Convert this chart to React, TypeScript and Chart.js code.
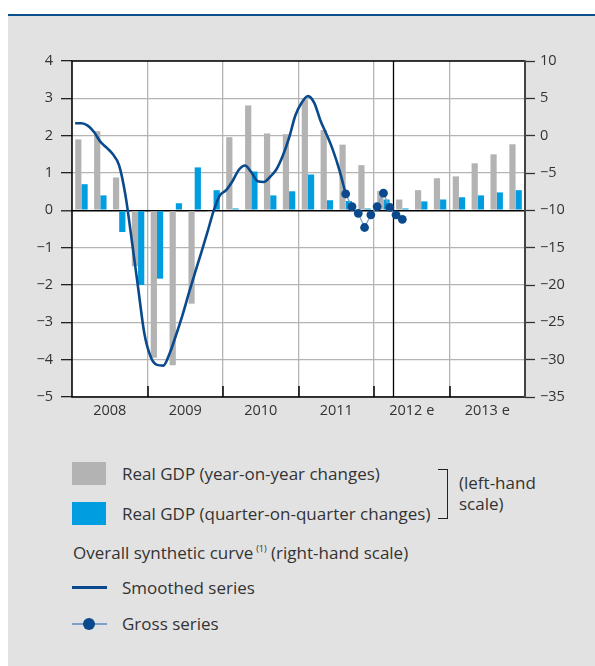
import React, { useEffect, useRef } from 'react';
import Chart from 'chart.js/auto';

// ---------- data ----------
const years = ['2008', '2009', '2010', '2011', '2012 e', '2013 e'];
const quarterNames = ['Q1', 'Q2', 'Q3', 'Q4'];

// Real GDP, year-on-year changes (%), quarterly 2008Q1..2013Q4 (left-hand scale)
const gdpYoY = [1.90, 2.12, 0.88, -1.50, -3.95, -4.15, -2.50, -0.05, 1.96, 2.81, 2.06, 2.04, 2.97, 2.15, 1.76, 1.21, 0.52, 0.29, 0.54, 0.86, 0.91, 1.26, 1.50, 1.77];
// Real GDP, quarter-on-quarter changes (%), quarterly 2008Q1..2013Q4 (left-hand scale)
const gdpQoQ = [0.70, 0.40, -0.58, -2.00, -1.83, 0.19, 1.15, 0.54, 0.05, 1.04, 0.40, 0.51, 0.96, 0.27, 0.25, 0.05, 0.29, 0.05, 0.24, 0.29, 0.35, 0.40, 0.48, 0.54];

// Overall synthetic curve, smoothed series (right-hand scale), monthly from 2008-01
const smoothStart = '2008-01';
const smoothed = [1.66, 1.66, 1.35, 0.5, -0.8, -1.6, -2.5, -4.0, -8.0, -14.0, -20.3, -26.5, -29.6, -30.7, -30.8, -29.2, -26.8, -24.2, -21.3, -18.5, -15.8, -13.0, -10.1, -8.0, -7.3, -6.1, -4.6, -4.0, -4.9, -6.1, -6.2, -5.5, -4.5, -2.7, -0.3, 2.7, 4.4, 5.3, 4.4, 2.0, 0.1, -2.0, -4.6, -7.8];

// Overall synthetic curve, gross series (right-hand scale), monthly from 2011-08
const grossStart = '2011-08';
const gross = [-7.8, -9.5, -10.4, -12.3, -10.6, -9.5, -7.7, -9.6, -10.6, -11.2];

// first month of the forecast period (vertical divider)
const forecastStart = '2012-04';

const leftTicks = { min: -5, max: 4, step: 1 };
const rightTicks = { min: -35, max: 10, step: 5 };

// ---------- helpers ----------
const baseYear = Number(years[0]);
const monthStartX = (label: string, idx = 0) => {
  const [y, m] = label.split('-').map(Number);
  return (y - baseYear) * 4 + (m - 1 + idx) / 3;
};
const monthCenterX = (label: string, idx: number) => monthStartX(label, idx) + 0.5 / 3;
const quarterLabels = years.flatMap((y) => quarterNames.map((q) => `${y} ${q}`));
const nQuarters = quarterLabels.length;

const FONT = "'Open Sans', 'Noto Sans', sans-serif";
const TEXT = '#333333';
const NAVY = '#0a4a8c';
const GRID = '#b4b4b4';
const fmt = (v: number) => (v < 0 ? '\u2212' + Math.abs(v) : String(v));

const framePlugin = {
  id: 'frame',
  beforeDraw(chart: any) {
    const { ctx, chartArea: a } = chart;
    ctx.save();
    ctx.fillStyle = '#ffffff';
    ctx.fillRect(a.left, a.top, a.right - a.left, a.bottom - a.top);
    ctx.restore();
  },
  beforeDatasetsDraw(chart: any) {
    const { ctx, chartArea: a, scales } = chart;
    const x = scales.x;
    ctx.save();
    ctx.strokeStyle = '#000';
    ctx.lineWidth = 1.5;
    for (let q = 4; q < nQuarters; q += 4) {
      const px = Math.round(x.getPixelForValue(q));
      ctx.beginPath();
      ctx.moveTo(px, a.bottom);
      ctx.lineTo(px, a.bottom - 11);
      ctx.stroke();
    }
    const sx = Math.round(x.getPixelForValue(monthStartX(forecastStart))) + 0.5;
    ctx.lineWidth = 1.3;
    ctx.beginPath();
    ctx.moveTo(sx, a.top);
    ctx.lineTo(sx, a.bottom);
    ctx.stroke();
    ctx.restore();
  },
  afterDatasetsDraw(chart: any) {
    const { ctx, chartArea: a } = chart;
    ctx.save();
    ctx.lineWidth = 1.5;
    ctx.strokeStyle = '#000';
    ctx.beginPath();
    ctx.moveTo(a.right, a.top);
    ctx.lineTo(a.left, a.top);
    ctx.lineTo(a.left, a.bottom);
    ctx.lineTo(a.right, a.bottom);
    ctx.stroke();
    ctx.strokeStyle = '#444';
    ctx.lineWidth = 2;
    ctx.beginPath();
    ctx.moveTo(a.right, a.top - 0.75);
    ctx.lineTo(a.right, a.bottom + 0.75);
    ctx.stroke();
    ctx.restore();
  },
};

function ChartCanvas() {
  const ref = useRef<HTMLCanvasElement | null>(null);
  useEffect(() => {
    if (!ref.current) return;
    const tickFont = { family: FONT, size: 14.5 };
    const chart = new Chart(ref.current, {
      type: 'bar',
      data: {
        datasets: [
          {
            type: 'line',
            label: 'Gross series',
            data: gross.map((v, i) => ({ x: monthCenterX(grossStart, i), y: v })),
            yAxisID: 'y2',
            borderColor: '#7e9fca',
            borderWidth: 1.3,
            pointRadius: 4.4,
            pointBackgroundColor: NAVY,
            pointBorderColor: NAVY,
            pointBorderWidth: 0,
            tension: 0,
            order: 0,
          } as any,
          {
            type: 'line',
            label: 'Smoothed series',
            data: smoothed.map((v, i) => ({ x: monthCenterX(smoothStart, i), y: v })),
            yAxisID: 'y2',
            borderColor: NAVY,
            borderWidth: 2.6,
            pointRadius: 0,
            cubicInterpolationMode: 'monotone',
            order: 1,
          } as any,
          {
            type: 'bar',
            label: 'Real GDP (year-on-year changes)',
            data: gdpYoY.map((v, i) => ({ x: i + 0.5, y: v })),
            yAxisID: 'y',
            backgroundColor: '#b3b3b3',
            categoryPercentage: 0.66,
            barPercentage: 1.0,
            order: 2,
          } as any,
          {
            type: 'bar',
            label: 'Real GDP (quarter-on-quarter changes)',
            data: gdpQoQ.map((v, i) => ({ x: i + 0.5, y: v })),
            yAxisID: 'y',
            backgroundColor: '#009ee0',
            categoryPercentage: 0.66,
            barPercentage: 1.0,
            order: 2,
          } as any,
        ],
      },
      options: {
        animation: false,
        responsive: false,
        devicePixelRatio: 1,
        layout: { padding: { top: 45, left: 0, right: 0, bottom: 0 } },
        plugins: { legend: { display: false }, tooltip: { enabled: false } },
        scales: {
          x: {
            type: 'linear',
            min: 0,
            max: nQuarters,
            offset: false,
            afterBuildTicks: (scale: any) => {
              const t = [];
              for (let v = 0; v <= nQuarters; v += 2) t.push({ value: v });
              scale.ticks = t;
            },
            afterFit: (scale: any) => {
              scale.height = 39;
            },
            ticks: {
              autoSkip: false,
              maxRotation: 0,
              padding: 5,
              color: TEXT,
              font: tickFont,
              callback: (v: any) => (Number(v) % 4 === 2 ? years[(Number(v) - 2) / 4] : ''),
            },
            grid: {
              offset: false,
              drawTicks: false,
              lineWidth: 1.3,
              color: (c: any) => (c.tick && c.tick.value % 4 === 0 ? GRID : 'rgba(0,0,0,0)'),
            },
            border: { display: false },
          },
          y: {
            type: 'linear',
            position: 'left',
            min: leftTicks.min,
            max: leftTicks.max,
            afterFit: (scale: any) => {
              scale.width = 64;
            },
            ticks: {
              stepSize: leftTicks.step,
              padding: 8,
              color: TEXT,
              font: tickFont,
              callback: (v: any) => fmt(Number(v)),
            },
            grid: {
              tickLength: 11,
              tickColor: '#222',
              tickWidth: 1.3,
              lineWidth: (c: any) => (c.tick && c.tick.value === 0 ? 1.6 : 1.3),
              color: (c: any) => (c.tick && c.tick.value === 0 ? '#000' : GRID),
            },
            border: { display: false },
          },
          y2: {
            type: 'linear',
            position: 'right',
            min: rightTicks.min,
            max: rightTicks.max,
            afterFit: (scale: any) => {
              scale.width = 70;
            },
            ticks: {
              stepSize: rightTicks.step,
              padding: 5,
              color: TEXT,
              font: tickFont,
              callback: (v: any) => fmt(Number(v)),
            },
            grid: {
              drawOnChartArea: false,
              tickLength: 10,
              tickColor: '#333',
              tickWidth: 1.3,
            },
            border: { display: false },
          },
        },
      } as any,
      plugins: [framePlugin],
    });
    return () => chart.destroy();
  }, []);
  return <canvas ref={ref} width={587} height={420} style={{ position: 'absolute', left: 8, top: 16, width: 587, height: 420 }} />;
}

const txt = (left: number, center: number, content: React.ReactNode, size = 17) => (
  <div
    style={{
      position: 'absolute',
      left,
      top: center - 11,
      height: 22,
      lineHeight: '22px',
      fontFamily: FONT,
      fontSize: size,
      color: TEXT,
      whiteSpace: 'nowrap',
    }}
  >
    {content}
  </div>
);

export default function App() {
  return (
    <div style={{ position: 'fixed', left: 0, top: 0, width: 595, height: 666, background: '#fff', overflow: 'hidden' }}>
      <div
        style={{
          position: 'absolute',
          left: 8,
          top: 14,
          width: 587,
          height: 652,
          background: '#e2e2e2',
          borderTop: '2px solid #0b4f8c',
          boxSizing: 'border-box',
        }}
      />
      <ChartCanvas />
      {/* legend */}
      <div style={{ position: 'absolute', left: 72, top: 462, width: 34, height: 23, background: '#b3b3b3' }} />
      {txt(122, 474, 'Real GDP (year-on-year changes)')}
      <div style={{ position: 'absolute', left: 72, top: 502, width: 34, height: 23, background: '#009ee0' }} />
      {txt(122, 514, 'Real GDP (quarter-on-quarter changes)')}
      <div
        style={{
          position: 'absolute',
          left: 438,
          top: 469,
          width: 9,
          height: 48,
          borderTop: '1.5px solid #222',
          borderRight: '1.5px solid #222',
          borderBottom: '1.5px solid #222',
        }}
      />
      {txt(459, 483, '(left-hand')}
      {txt(459, 504, 'scale)')}
      {txt(
        73,
        553,
        <span>
          Overall synthetic curve
          <sup style={{ fontSize: 9, verticalAlign: 'top', lineHeight: '14px', marginLeft: 3 }}>(1)</sup> (right-hand scale)
        </span>
      )}
      <div style={{ position: 'absolute', left: 72, top: 585.5, width: 35, height: 3, background: NAVY }} />
      {txt(122, 588, 'Smoothed series')}
      <div style={{ position: 'absolute', left: 72, top: 623, width: 35, height: 1.5, background: '#7e9fca' }} />
      <div style={{ position: 'absolute', left: 83, top: 618, width: 12, height: 12, borderRadius: 6, background: NAVY }} />
      {txt(122, 624, 'Gross series')}
    </div>
  );
}
